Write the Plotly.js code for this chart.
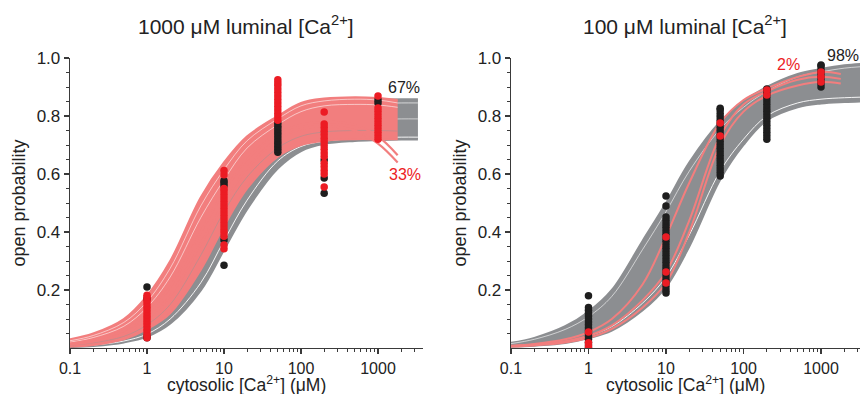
<!DOCTYPE html>
<html><head><meta charset="utf-8">
<script src="https://cdn.plot.ly/plotly-3.0.1.min.js"></script>
<style>body{margin:0;background:#fff}#c{width:860px;height:394px}</style>
</head><body><div id="c"></div>
<script>
// ---------- curve sample grids (cytosolic Ca, µM) ----------
const xGrayL = [0.1,0.2,0.5,1,2,5,10,20,50,100,200,500,1000,2000,3300];
const xRedL  = [0.1,0.2,0.5,1,2,5,10,20,50,100,200,500,1000,1800];
const xGrayR = [0.1,0.2,0.5,1,2,5,10,20,50,100,200,500,1000,2000,3300];
const xRedR  = [0.1,0.2,0.5,1,2,5,10,20,50,100,200,500,1000,1800];

// ---------- left panel (1000 µM luminal) curves ----------
const grayLowL  = [0.004,0.008,0.02,0.04,0.085,0.2,0.34,0.48,0.62,0.68,0.705,0.715,0.718,0.72,0.72];
const grayHighL = [0.012,0.025,0.055,0.1,0.18,0.35,0.5,0.63,0.76,0.82,0.845,0.852,0.855,0.857,0.857];
const grayGap1L = [0.005,0.01,0.024,0.048,0.1,0.225,0.37,0.51,0.645,0.695,0.713,0.722,0.725,0.727,0.727];
const grayGap2L = [0.008,0.016,0.036,0.07,0.135,0.28,0.43,0.57,0.7,0.755,0.775,0.785,0.788,0.79,0.79];
const grayGap3L = [0.01,0.02,0.047,0.088,0.165,0.33,0.48,0.615,0.745,0.805,0.83,0.84,0.843,0.845,0.845];
const redHighL  = [0.03,0.05,0.1,0.18,0.3,0.52,0.64,0.73,0.8,0.845,0.86,0.865,0.862,0.855];
const redLowL   = [0.005,0.01,0.03,0.065,0.12,0.27,0.42,0.55,0.66,0.7,0.715,0.72,0.72,0.72];
const redDrop1L = [0.012,0.022,0.05,0.1,0.18,0.36,0.5,0.62,0.72,0.755,0.765,0.75,0.705,0.64];
const redDrop2L = [0.015,0.028,0.06,0.12,0.21,0.4,0.54,0.65,0.74,0.77,0.78,0.77,0.73,0.665];
const redGap1L  = [0.02,0.036,0.075,0.14,0.245,0.45,0.58,0.69,0.77,0.815,0.835,0.84,0.838,0.83];
const redGap2L  = [0.025,0.043,0.088,0.16,0.275,0.49,0.615,0.715,0.79,0.835,0.852,0.858,0.855,0.845];
const redGap3L  = [0.01,0.018,0.04,0.08,0.15,0.32,0.47,0.59,0.69,0.73,0.745,0.75,0.75,0.748];

// ---------- right panel (100 µM luminal) curves ----------
const grayHighR = [0.018,0.035,0.075,0.125,0.2,0.37,0.5,0.64,0.78,0.85,0.9,0.945,0.962,0.975,0.98];
const grayLowR  = [0.004,0.008,0.017,0.034,0.06,0.13,0.21,0.35,0.58,0.7,0.785,0.83,0.843,0.848,0.85];
const grayGap1R = [0.015,0.03,0.064,0.108,0.178,0.34,0.47,0.61,0.755,0.83,0.885,0.935,0.952,0.965,0.97];
const grayGap2R = [0.005,0.01,0.021,0.042,0.074,0.155,0.245,0.39,0.61,0.72,0.8,0.845,0.858,0.863,0.865];
const redCurve1R = [0.008,0.014,0.03,0.055,0.1,0.22,0.385,0.57,0.776,0.855,0.895,0.935,0.952,0.945];
const redCurve2R = [0.006,0.011,0.023,0.042,0.078,0.165,0.262,0.44,0.731,0.84,0.885,0.925,0.935,0.928];
const redCurve3R = [0.005,0.009,0.019,0.035,0.066,0.14,0.224,0.4,0.7,0.815,0.87,0.905,0.917,0.912];

// ---------- measured points ----------
const lb1 = [0.21,0.035,0.04,0.17];
const lb10 = [0.285,0.372,0.56,0.57,0.577];
const lb50 = [0.675,0.685,0.695,0.705,0.715,0.725,0.735,0.745,0.755,0.765,0.775];
const lb200 = [0.534,0.586,0.648];
const lb1000 = [0.845,0.855];
const lr1 = [0.035,0.045,0.055,0.065,0.075,0.085,0.095,0.105,0.115,0.125,0.135,0.145,0.155,0.165,0.175,0.182];
const lr10 = [0.342,0.355,0.385,0.397,0.409,0.421,0.433,0.445,0.457,0.469,0.481,0.493,0.505,0.517,0.529,0.541,0.55,0.597,0.612];
const lr50 = [0.785,0.797,0.809,0.821,0.833,0.845,0.857,0.869,0.881,0.893,0.905,0.915,0.925];
const lr200 = [0.555,0.6,0.612,0.625,0.637,0.66,0.672,0.685,0.697,0.71,0.722,0.735,0.747,0.76,0.772,0.814];
const lr1000 = [0.72,0.732,0.744,0.756,0.768,0.78,0.792,0.804,0.816,0.828,0.869];
const rb1 = [0.0,0.01,0.02,0.03,0.04,0.05,0.06,0.07,0.08,0.09,0.1,0.11,0.12,0.13,0.14,0.18];
const rb10 = [0.19,0.2,0.212,0.224,0.236,0.248,0.26,0.272,0.284,0.296,0.308,0.32,0.332,0.344,0.356,0.368,0.38,0.392,0.404,0.416,0.428,0.44,0.452,0.49,0.524];
const rb50 = [0.593,0.605,0.617,0.629,0.641,0.653,0.665,0.677,0.689,0.701,0.713,0.725,0.737,0.749,0.761,0.773,0.785,0.797,0.809,0.821,0.827];
const rb200 = [0.72,0.732,0.744,0.756,0.768,0.78,0.792,0.804,0.816,0.828,0.84,0.852,0.864,0.876,0.888,0.893];
const rb1000 = [0.9,0.912,0.924,0.936,0.948,0.96,0.972,0.976];
const rr1 = [0.005,0.018,0.055];
const rr10 = [0.224,0.262,0.383];
const rr50 = [0.731,0.776];
const rr200 = [0.872,0.89];
const rr1000 = [0.917,0.935,0.952];

const GRAY = 'rgb(140,142,145)', SALMON = 'rgb(242,126,126)';
const DOTRED = 'rgb(236,28,36)', DOTBLK = 'rgb(30,30,30)';

function line(x, y, color, w, ax, fill, fillcolor) {
  const t = {x: x, y: y, mode: 'lines', line: {color: color, width: w, shape: 'spline', smoothing: 1},
    xaxis: ax === 2 ? 'x2' : 'x', yaxis: ax === 2 ? 'y2' : 'y', hoverinfo: 'skip'};
  if (fill) { t.fill = fill; t.fillcolor = fillcolor; }
  return t;
}
function pts(concs, arrs, color, ax) {
  const xs = [], ys = [];
  concs.forEach((c, i) => arrs[i].forEach(v => { xs.push(c); ys.push(v); }));
  return {x: xs, y: ys, mode: 'markers', marker: {color: color, size: 7.5, line: {width: 0}},
    xaxis: ax === 2 ? 'x2' : 'x', yaxis: ax === 2 ? 'y2' : 'y', hoverinfo: 'skip'};
}
const concs = [1,10,50,200,1000];

const traces = [
  line(xGrayL, grayLowL, GRAY, 2.5, 1),
  line(xGrayL, grayHighL, GRAY, 2.5, 1, 'tonexty', GRAY),
  line(xGrayL, grayGap1L, 'rgba(255,255,255,0.9)', 1, 1),
  line(xGrayL, grayGap2L, 'rgba(255,255,255,0.7)', 0.8, 1),
  line(xGrayL, grayGap3L, 'rgba(255,255,255,0.8)', 0.8, 1),
  line(xRedL, redLowL, SALMON, 2, 1),
  line(xRedL, redHighL, SALMON, 2, 1, 'tonexty', SALMON),
  line(xRedL, redGap1L, 'rgba(255,255,255,0.7)', 0.8, 1),
  line(xRedL, redGap2L, 'rgba(255,255,255,0.7)', 0.8, 1),
  line(xRedL, redGap3L, 'rgba(150,150,150,0.6)', 0.8, 1),
  line(xRedL, redDrop1L, SALMON, 2.2, 1),
  line(xRedL, redDrop2L, SALMON, 2.2, 1),
  line(xGrayR, grayLowR, GRAY, 2, 2),
  line(xGrayR, grayHighR, GRAY, 2, 2, 'tonexty', GRAY),
  line(xGrayR, grayGap1R, 'rgba(255,255,255,0.75)', 0.8, 2),
  line(xGrayR, grayGap2R, 'rgba(255,255,255,0.9)', 1, 2),
  line(xRedR, redCurve1R, SALMON, 2, 2),
  line(xRedR, redCurve2R, SALMON, 2, 2),
  line(xRedR, redCurve3R, SALMON, 2, 2),
  pts(concs, [lb1, lb10, lb50, lb200, lb1000], DOTBLK, 1),
  pts(concs, [lr1, lr10, lr50, lr200, lr1000], DOTRED, 1),
  pts(concs, [rb1, rb10, rb50, rb200, rb1000], DOTBLK, 2),
  pts(concs, [rr1, rr10, rr50, rr200, rr1000], DOTRED, 2)
];

const AX = '#3a3a3a';
const FONT = 'Liberation Sans, Arial, sans-serif';
const xMinor = [0.2,0.3,0.4,0.5,0.6,0.7,0.8,0.9,2,3,4,5,6,7,8,9,20,30,40,50,60,70,80,90,200,300,400,500,600,700,800,900,2000,3000];
const yMinor = [0.05,0.1,0.15,0.25,0.3,0.35,0.45,0.5,0.55,0.65,0.7,0.75,0.85,0.9,0.95];
function xax(domain, range, anchor) {
  return {type: 'log', domain: domain, range: range, anchor: anchor,
    showline: true, linecolor: AX, linewidth: 1.3, ticks: 'outside', ticklen: 5, tickwidth: 1.2, tickcolor: AX,
    tickvals: [0.1,1,10,100,1000], ticktext: ['0.1','1','10','100','1000'],
    tickfont: {size: 16, color: '#222'}, showgrid: false, zeroline: false,
    minor: {tickvals: xMinor, ticks: 'outside', ticklen: 3, tickwidth: 1, tickcolor: AX, showgrid: false}};
}
function yax(anchor) {
  return {domain: [0,1], range: [0,1], anchor: anchor,
    showline: true, linecolor: AX, linewidth: 1.3, ticks: 'outside', ticklen: 5, tickwidth: 1.2, tickcolor: AX,
    tickvals: [0.2,0.4,0.6,0.8,1.0], ticktext: ['0.2','0.4','0.6','0.8','1.0'],
    tickfont: {size: 17, color: '#222'}, showgrid: false, zeroline: false,
    minor: {tickvals: yMinor, ticks: 'outside', ticklen: 3, tickwidth: 1, tickcolor: AX, showgrid: false},
    title: {text: 'open probability', font: {size: 18, color: '#222'}, standoff: 6}};
}
const XTITLE = 'cytosolic [Ca<sup>2+</sup>] (μM)';

const layout = {
  width: 860, height: 394, margin: {l: 70, r: 0, t: 58, b: 46},
  showlegend: false, paper_bgcolor: '#fff', plot_bgcolor: '#fff',
  font: {family: FONT, color: '#222'},
  xaxis: xax([0, 0.4468], [-1, 3.584], 'y'),
  yaxis: yax('x'),
  xaxis2: xax([0.5582, 1], [-1, 3.503], 'y2'),
  yaxis2: yax('x2'),
  annotations: [
    {xref: 'x domain', yref: 'paper', x: 0.5, y: 1, yshift: 33, yanchor: 'middle', showarrow: false,
     text: '1000 μM luminal [Ca<sup>2+</sup>]', font: {size: 21, color: '#222'}},
    {xref: 'x2 domain', yref: 'paper', x: 0.5, y: 1, yshift: 33, yanchor: 'middle', showarrow: false,
     text: '100 μM luminal [Ca<sup>2+</sup>]', font: {size: 21, color: '#222'}},
    {xref: 'x domain', yref: 'paper', x: 0.5, y: 0, yshift: -36, yanchor: 'middle', showarrow: false,
     text: XTITLE, font: {size: 17.5, color: '#222'}},
    {xref: 'x2 domain', yref: 'paper', x: 0.5, y: 0, yshift: -36, yanchor: 'middle', showarrow: false,
     text: XTITLE, font: {size: 17.5, color: '#222'}},
    {xref: 'x', yref: 'y', x: 3.34, y: 0.897, showarrow: false, text: '67%', font: {size: 16, color: '#222'}},
    {xref: 'x', yref: 'y', x: 3.35, y: 0.597, showarrow: false, text: '33%', font: {size: 16, color: DOTRED}},
    {xref: 'x2', yref: 'y2', x: 2.587, y: 0.979, showarrow: false, text: '2%', font: {size: 16, color: DOTRED}},
    {xref: 'x2', yref: 'paper', x: 3.29, y: 1, yshift: 3, yanchor: 'middle', showarrow: false, text: '98%', font: {size: 16, color: '#222'}}
  ]
};
Plotly.newPlot('c', traces, layout, {staticPlot: true, displayModeBar: false});
</script></body></html>
